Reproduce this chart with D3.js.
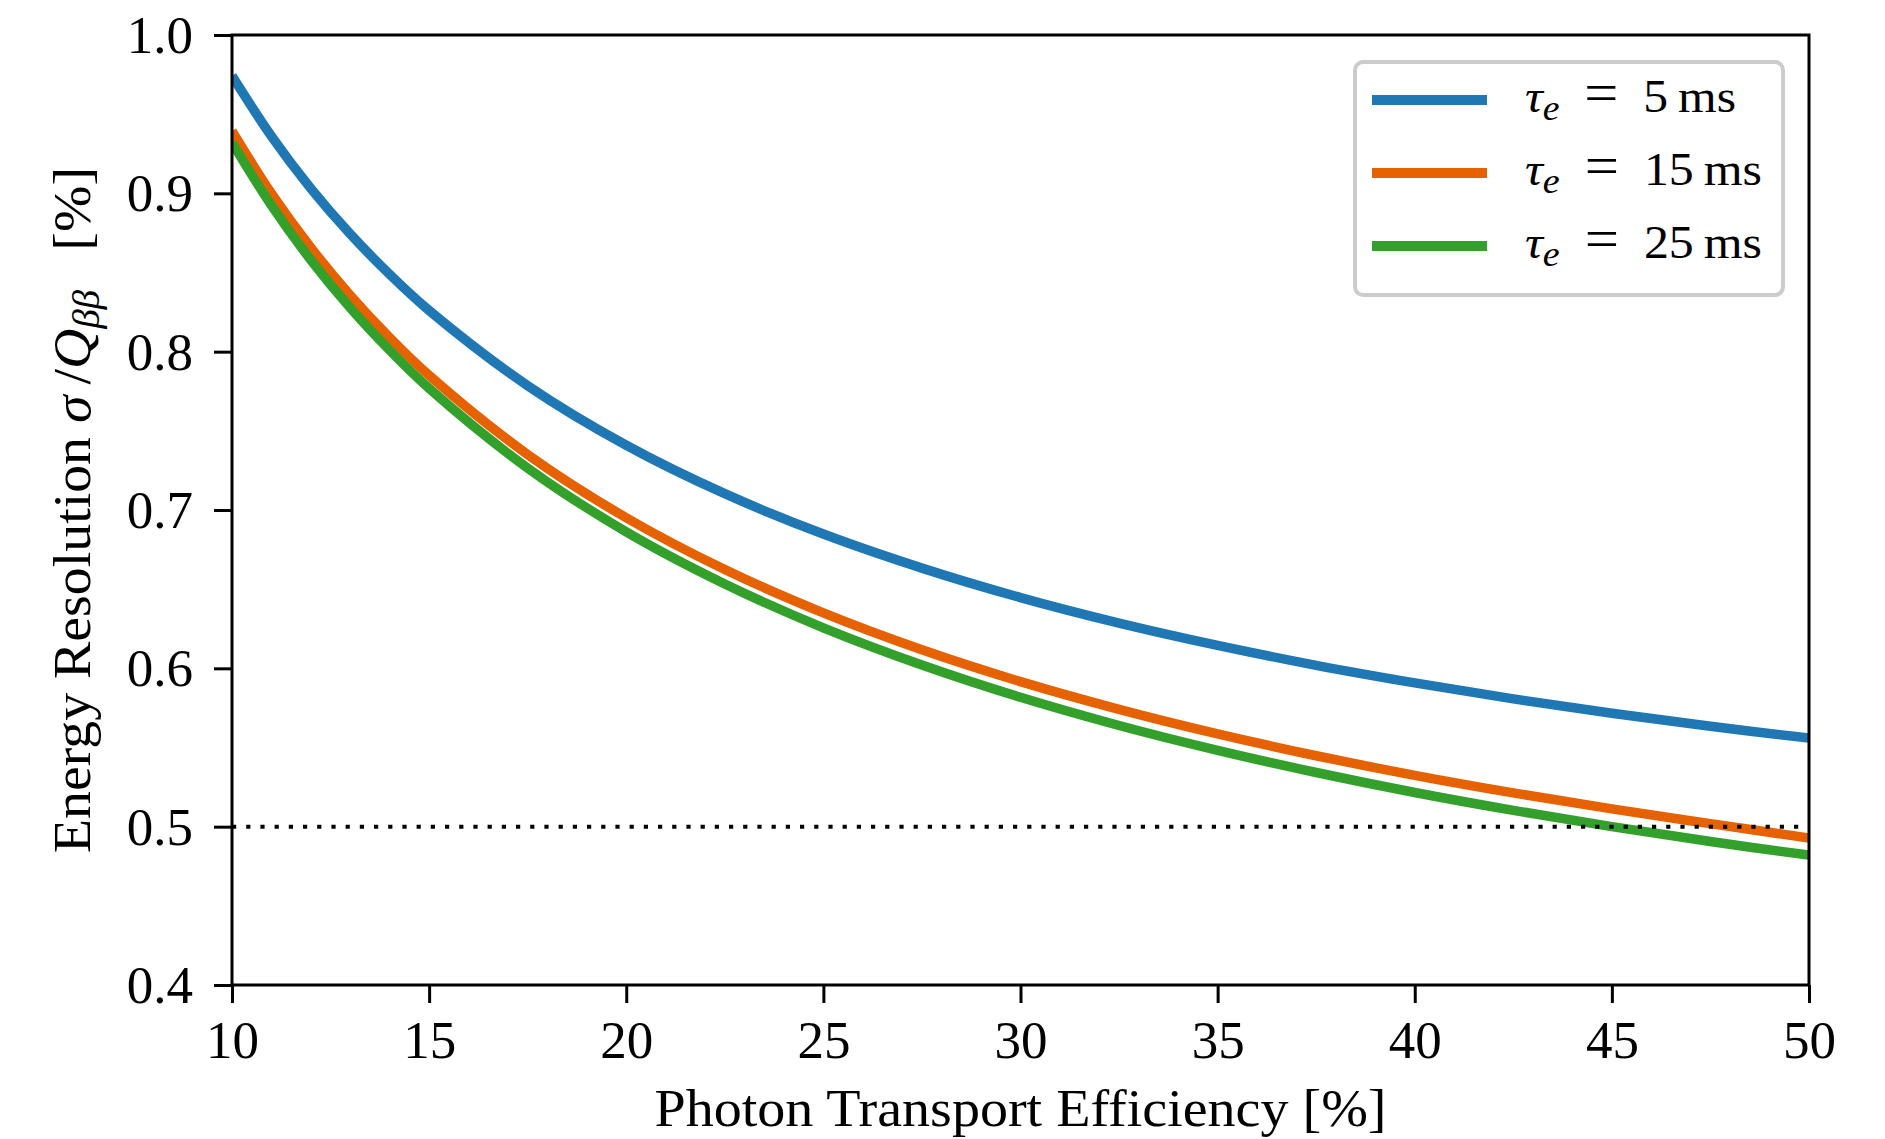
<!DOCTYPE html>
<html>
<head>
<meta charset="utf-8">
<script src="https://cdn.jsdelivr.net/npm/d3@7"></script>
<style>
  body { margin: 0; background: #ffffff; }
  svg text { font-family: "Liberation Serif", "Times New Roman", serif; fill: #000; }
</style>
</head>
<body>
<svg id="chart" width="1885" height="1139"></svg>
<script>
// Photon transport efficiency [%] at which the resolution is sampled
const efficiency = [10, 11, 12, 13, 14, 15, 17.5, 20, 22.5, 25, 27.5, 30, 32.5, 35, 37.5, 40, 42.5, 45, 47.5, 50];

// Energy resolution sigma/Q_bb [%] for each electron lifetime
const res5ms  = [0.9742, 0.9361, 0.9031, 0.8743, 0.8488, 0.8260, 0.7785, 0.7409, 0.7103, 0.6848, 0.6633, 0.6447, 0.6286, 0.6145, 0.6019, 0.5908, 0.5807, 0.5716, 0.5634, 0.5559];
const res15ms = [0.9394, 0.8999, 0.8657, 0.8356, 0.8089, 0.7850, 0.7350, 0.6951, 0.6624, 0.6350, 0.6117, 0.5916, 0.5741, 0.5586, 0.5448, 0.5324, 0.5213, 0.5112, 0.5019, 0.4928];
const res25ms = [0.9320, 0.8924, 0.8579, 0.8277, 0.8009, 0.7768, 0.7265, 0.6862, 0.6533, 0.6256, 0.6021, 0.5817, 0.5639, 0.5482, 0.5342, 0.5216, 0.5103, 0.5000, 0.4906, 0.4820];

const lifetimes = ["5", "15", "25"];
const seriesColors = ["#1f77b4", "#e66100", "#33a02c"];

const xTickValues = [10, 15, 20, 25, 30, 35, 40, 45, 50];
const yTickValues = [0.4, 0.5, 0.6, 0.7, 0.8, 0.9, 1.0];
const targetResolution = 0.5;

const series = [res5ms, res15ms, res25ms].map((vals, i) => ({
  tau: lifetimes[i],
  color: seriesColors[i],
  points: efficiency.map((e, j) => ({ x: e, y: vals[j] }))
}));

const svg = d3.select("#chart");
const plotLeft = 232, plotRight = 1809, plotTop = 35, plotBottom = 985;
const fontSize = 53;

const x = d3.scaleLinear().domain([10, 50]).range([plotLeft, plotRight]);
const y = d3.scaleLinear().domain([0.4, 1.0]).range([plotBottom, plotTop]);

svg.append("defs").append("clipPath").attr("id", "plotArea")
  .append("rect").attr("x", plotLeft).attr("y", plotTop)
  .attr("width", plotRight - plotLeft).attr("height", plotBottom - plotTop);

// Curves
const line = d3.line().x(d => x(d.x)).y(d => y(d.y)).curve(d3.curveCatmullRom.alpha(0.5));
const curves = svg.append("g").attr("clip-path", "url(#plotArea)");
curves.selectAll("path.curve").data(series).join("path")
  .attr("class", "curve")
  .attr("d", d => line(d.points))
  .attr("fill", "none")
  .attr("stroke", d => d.color)
  .attr("stroke-width", 9.5);

// 0.5 % reference level
curves.append("line")
  .attr("x1", x(10)).attr("x2", x(50))
  .attr("y1", y(targetResolution)).attr("y2", y(targetResolution))
  .attr("stroke", "#000").attr("stroke-width", 4)
  .attr("stroke-dasharray", "4.2 10");

// Axes
const xAxis = svg.append("g").attr("transform", `translate(0,${plotBottom})`)
  .call(d3.axisBottom(x).tickValues(xTickValues).tickFormat(d3.format("d")).tickSize(18));
xAxis.attr("font-family", null).attr("font-size", null);
xAxis.select(".domain").remove();
xAxis.selectAll(".tick line").attr("stroke", "#000").attr("stroke-width", 3);
xAxis.selectAll(".tick text").attr("y", 73).attr("dy", 0)
  .attr("font-size", fontSize).attr("fill", "#000");

const yAxis = svg.append("g").attr("transform", `translate(${plotLeft},0)`)
  .call(d3.axisLeft(y).tickValues(yTickValues).tickFormat(d3.format(".1f")).tickSize(18));
yAxis.attr("font-family", null).attr("font-size", null);
yAxis.select(".domain").remove();
yAxis.selectAll(".tick line").attr("stroke", "#000").attr("stroke-width", 3);
yAxis.selectAll(".tick text").attr("x", -39).attr("dy", "0.33em")
  .attr("font-size", fontSize).attr("fill", "#000");

// Frame
svg.append("rect")
  .attr("x", plotLeft).attr("y", plotTop)
  .attr("width", plotRight - plotLeft).attr("height", plotBottom - plotTop)
  .attr("fill", "none").attr("stroke", "#000").attr("stroke-width", 3);

// Axis titles
svg.append("text")
  .attr("x", (plotLeft + plotRight) / 2).attr("y", 1126)
  .attr("text-anchor", "middle").attr("font-size", fontSize)
  .attr("textLength", 732).attr("lengthAdjust", "spacingAndGlyphs")
  .text("Photon Transport Efficiency [%]");

const yTitle = svg.append("text")
  .attr("transform", `translate(90,${(plotTop + plotBottom) / 2}) rotate(-90)`)
  .attr("text-anchor", "middle").attr("font-size", fontSize)
  .attr("textLength", 686).attr("lengthAdjust", "spacingAndGlyphs");
yTitle.append("tspan").text("Energy Resolution ");
yTitle.append("tspan").attr("font-style", "italic").text("σ");
yTitle.append("tspan").text("\u2009/");
yTitle.append("tspan").attr("font-style", "italic").text("Q");
yTitle.append("tspan").attr("font-style", "italic").attr("font-size", 37).attr("dy", 9).text("ββ");
yTitle.append("tspan").attr("dy", -9).text("\u2002\u2009[%]");

// Legend
const legend = svg.append("g");
legend.append("rect")
  .attr("x", 1355).attr("y", 62).attr("width", 428).attr("height", 233)
  .attr("rx", 8).attr("ry", 8)
  .attr("fill", "#fff").attr("stroke", "#cccccc").attr("stroke-width", 4);

const rowY = [100, 173, 246];
const labelWidths = [211, 237, 237];
series.forEach((s, i) => {
  legend.append("line")
    .attr("x1", 1372).attr("x2", 1487)
    .attr("y1", rowY[i]).attr("y2", rowY[i])
    .attr("stroke", s.color).attr("stroke-width", 10);
  const t = legend.append("text")
    .attr("x", 1525).attr("y", rowY[i] + 12).attr("font-size", 46)
    .attr("textLength", labelWidths[i]).attr("lengthAdjust", "spacingAndGlyphs");
  t.append("tspan").attr("font-style", "italic").text("τ");
  t.append("tspan").attr("font-style", "italic").attr("font-size", 35).attr("dy", 8).text("e");
  t.append("tspan").attr("dy", -8).text("\u2002");
  t.append("tspan").attr("font-size", 56).text("=");
  t.append("tspan").text("\u2002" + s.tau + "\u2009ms");
});
</script>
</body>
</html>
